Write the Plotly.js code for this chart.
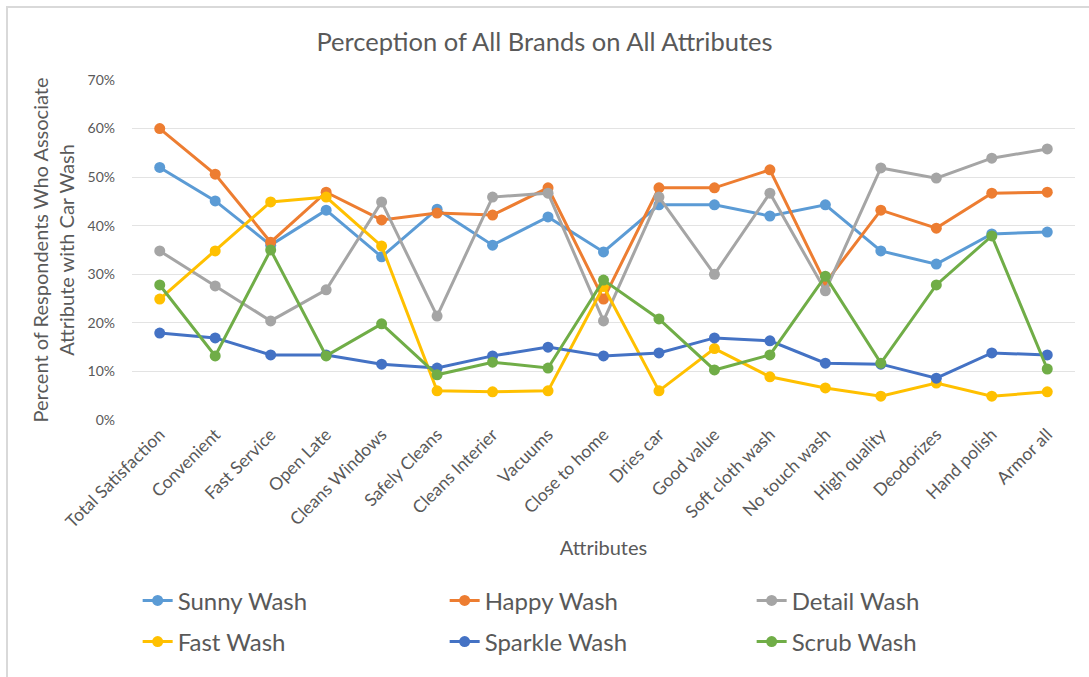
<!DOCTYPE html>
<html>
<head>
<meta charset="utf-8">
<script src="https://cdn.plot.ly/plotly-3.0.1.min.js"></script>
<style>
  html, body { margin: 0; padding: 0; background: #ffffff; }
  #chart { width: 1089px; height: 677px; }
</style>
</head>
<body>
<div id="chart"></div>
<script>
// Attributes rated for each car wash brand
const attributes = [
  "Total Satisfaction", "Convenient", "Fast Service", "Open Late", "Cleans Windows",
  "Safely Cleans", "Cleans Interier", "Vacuums", "Close to home", "Dries car",
  "Good value", "Soft cloth wash", "No touch wash", "High quality", "Deodorizes",
  "Hand polish", "Armor all"
];

// Share of respondents associating each attribute with the brand
const sunnyWash   = [0.52, 0.451, 0.36, 0.432, 0.336, 0.434, 0.36, 0.418, 0.346, 0.443, 0.443, 0.42, 0.443, 0.348, 0.321, 0.383, 0.387];
const happyWash   = [0.60, 0.506, 0.366, 0.469, 0.412, 0.426, 0.422, 0.478, 0.249, 0.478, 0.478, 0.515, 0.282, 0.432, 0.395, 0.467, 0.469];
const detailWash  = [0.348, 0.276, 0.204, 0.268, 0.449, 0.214, 0.459, 0.467, 0.204, 0.459, 0.30, 0.467, 0.266, 0.519, 0.498, 0.539, 0.558];
const fastWash    = [0.249, 0.348, 0.449, 0.459, 0.358, 0.06, 0.058, 0.06, 0.275, 0.06, 0.147, 0.089, 0.066, 0.049, 0.076, 0.049, 0.058];
const sparkleWash = [0.179, 0.169, 0.134, 0.134, 0.115, 0.107, 0.132, 0.15, 0.132, 0.138, 0.169, 0.163, 0.117, 0.115, 0.086, 0.138, 0.134];
const scrubWash   = [0.278, 0.132, 0.35, 0.132, 0.198, 0.093, 0.119, 0.107, 0.288, 0.208, 0.103, 0.134, 0.296, 0.117, 0.278, 0.379, 0.105];

const brands = [
  { name: "Sunny Wash",   values: sunnyWash,   color: "#5B9BD5", legend: "legend"  },
  { name: "Happy Wash",   values: happyWash,   color: "#ED7D31", legend: "legend"  },
  { name: "Detail Wash",  values: detailWash,  color: "#A5A5A5", legend: "legend"  },
  { name: "Fast Wash",    values: fastWash,    color: "#FFC000", legend: "legend2" },
  { name: "Sparkle Wash", values: sparkleWash, color: "#4472C4", legend: "legend2" },
  { name: "Scrub Wash",   values: scrubWash,   color: "#70AD47", legend: "legend2" }
];

const fontFamily = "Lato, 'Open Sans', sans-serif";
const textColor = "#595959";

const traces = brands.map(b => ({
  type: "scatter",
  mode: "lines+markers",
  name: b.name,
  x: attributes,
  y: b.values,
  legend: b.legend,
  line: { color: b.color, width: 3 },
  marker: { color: b.color, size: 11 },
  hovertemplate: "%{x}: %{y:.0%}<extra>" + b.name + "</extra>"
}));

// Two single-row legends, three entries each
const legendStyle = {
  orientation: "h",
  x: 0.006,
  xanchor: "left",
  yanchor: "middle",
  entrywidth: 262,
  entrywidthmode: "pixels",
  itemwidth: 30,
  font: { family: fontFamily, size: 24, color: textColor },
  bgcolor: "rgba(0,0,0,0)"
};

const layout = {
  width: 1089,
  height: 677,
  margin: { l: 132, r: 14, t: 80, b: 257 },
  paper_bgcolor: "#ffffff",
  plot_bgcolor: "#ffffff",
  font: { family: fontFamily, color: textColor },
  title: {
    text: "Perception of All Brands on All Attributes",
    font: { family: fontFamily, size: 25.5, color: textColor },
    x: 0.5,
    xanchor: "center",
    y: 0.938,
    yanchor: "middle"
  },
  xaxis: {
    type: "category",
    range: [-0.5, attributes.length - 0.5],
    tickangle: -45,
    tickfont: { family: fontFamily, size: 17.5, color: textColor },
    showgrid: false,
    showline: false,
    ticks: "",
    zeroline: false,
    title: {
      text: "Attributes",
      font: { family: fontFamily, size: 20, color: textColor },
      standoff: 10
    }
  },
  yaxis: {
    range: [0, 0.7],
    dtick: 0.1,
    tickformat: ".0%",
    tickfont: { family: fontFamily, size: 14, color: textColor },
    gridcolor: "#E3E3E3",
    gridwidth: 1,
    zeroline: false,
    showline: false,
    ticks: "",
    ticklabelstandoff: 16,
    title: {
      text: "Percent of Respondents Who Associate<br>Attribute with Car Wash",
      font: { family: fontFamily, size: 20, color: textColor },
      standoff: 7
    }
  },
  legend: Object.assign({}, legendStyle, { y: -0.532 }),
  legend2: Object.assign({}, legendStyle, { y: -0.653 }),
  shapes: [{
    type: "rect",
    xref: "paper", yref: "paper",
    x0: (7 - 132) / 943,
    x1: (1100 - 132) / 943,
    y0: (420 - 690) / 340,
    y1: (420 - 7) / 340,
    line: { color: "#D9D9D9", width: 2 },
    fillcolor: "rgba(0,0,0,0)",
    layer: "below"
  }]
};

Plotly.newPlot("chart", traces, layout, { displayModeBar: false, responsive: false });
</script>
</body>
</html>
